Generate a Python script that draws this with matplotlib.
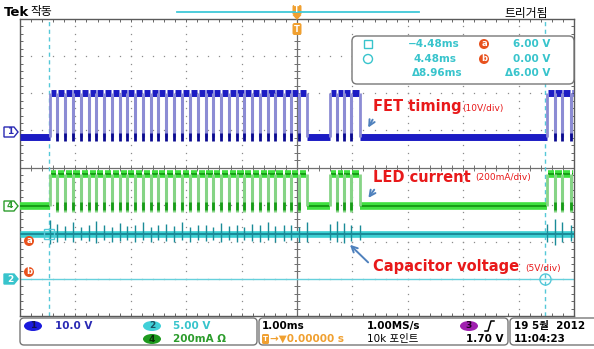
import numpy as np
import matplotlib.pyplot as plt
from matplotlib.patches import FancyBboxPatch, Polygon, Circle, Rectangle, Ellipse

plt.rcParams['font.family'] = ['DejaVu Sans', 'Noto Sans CJK KR']

ch1_scale, ch1_offset = 10.0, 0.82     # V/div, Nulllage in div
ch2_scale, ch2_offset = 5.0, -3.0      # V/div
ch4_scale, ch4_offset = 200.0, -1.04   # mA/div
cursor_t = [-4.48, 4.48]               # ms
cursor_v = [6.00, 0.00]                # V (Kanal 2)

# Pulspakete des FET (ms)
burst_start = [-4.46, 0.60, 4.52]
burst_end = [0.18, 1.14, 5.00]
dips = [-4.33, -4.19, -4.05, -3.90, -3.76, -3.62, -3.48, -3.34, -3.20, -3.06,
        -2.92, -2.78, -2.64, -2.50, -2.36, -2.22, -2.07, -1.93, -1.79, -1.65,
        -1.51, -1.37, -1.23, -1.09, -0.95, -0.81, -0.67, -0.53, -0.39, -0.24,
        -0.10, 0.04,
        0.72, 0.84, 0.98,
        4.65, 4.79, 4.94]

fet_low, fet_high, fet_dip = 0.0, 12.0, 0.0          # V
led_low, led_high, led_dip = 0.0, 175.0, -32.0       # mA
cap_level = 6.0                                      # V
# Spitzen der Kondensatorspannung an den Schaltflanken (V)
cap_spike_hi = [7.9, 7.4, 7.1, 7.6, 7.0, 7.3, 7.8, 7.2, 7.0, 7.5,
                7.1, 7.3, 7.6, 7.0, 7.2, 7.4, 7.1, 7.7, 7.0, 7.3,
                7.2, 7.0, 7.5, 7.1, 7.3, 7.0, 7.4, 7.2, 7.6, 7.1,
                7.3, 7.2, 7.0, 7.6, 7.4, 7.8, 7.5, 7.3, 7.2, 7.4,
                8.1, 7.6, 7.2]
cap_spike_lo = [4.7, 5.0, 5.2, 4.9, 5.3, 5.1, 4.8, 5.2, 5.0, 5.1,
                5.3, 4.9, 5.2, 5.0, 5.3, 5.1, 4.9, 5.2, 5.0, 5.3,
                5.1, 5.2, 4.9, 5.3, 5.0, 5.2, 5.1, 4.9, 5.2, 5.0,
                5.1, 5.3, 5.0, 4.9, 5.2, 5.0, 4.8, 5.1, 5.2, 5.0,
                4.6, 4.9, 5.1]


def to_div(v, scale, offset):
    return np.asarray(v, dtype=float) / scale + offset


fig = plt.figure(figsize=(5.94, 3.49), dpi=100)
fig.patch.set_facecolor('white')

# Graticule (10 x 8 div)
ax = fig.add_axes([20/594, 33/349, 554/594, 297/349])
ax.set_xlim(-5, 5)
ax.set_ylim(-4, 4)
for s in ax.spines.values():
    s.set_color('#5a5a5a')
    s.set_linewidth(1.0)
ax.set_xticks(np.arange(-5, 6, 1))
ax.set_yticks(np.arange(-4, 5, 1))
ax.set_xticks(np.arange(-5, 5.01, 0.2), minor=True)
ax.set_yticks(np.arange(-4, 4.01, 0.2), minor=True)
ax.tick_params(which='both', direction='in', top=True, right=True, length=2.5,
               width=0.7, color='#666666', labelbottom=False, labelleft=False)

fine_x = np.arange(-5, 5.01, 0.2)
fine_y = np.arange(-4, 4.01, 0.2)
for gx in range(-4, 5):
    if gx != 0:
        ax.plot(np.full_like(fine_y, gx), fine_y, ls='none', marker='s', ms=0.9,
                mfc='#8c8c8c', mec='none', zorder=1)
for gy in range(-3, 4):
    if gy != 0:
        ax.plot(fine_x, np.full_like(fine_x, gy), ls='none', marker='s', ms=0.9,
                mfc='#8c8c8c', mec='none', zorder=1)
ax.axhline(0, color='#707070', lw=0.9, zorder=1)
ax.axvline(0, color='#707070', lw=0.9, zorder=1)
ax.plot(fine_x, np.zeros_like(fine_x), ls='none', marker='|', ms=4, mew=0.7,
        color='#707070', zorder=1)
ax.plot(np.zeros_like(fine_y), fine_y, ls='none', marker='_', ms=4, mew=0.7,
        color='#707070', zorder=1)

# Cursor
for t in cursor_t:
    ax.axvline(t, color='#55c8d8', lw=1.0, ls=(0, (3, 2.5)), zorder=2)
ax.axhline(to_div(cursor_v[1], ch2_scale, ch2_offset), color='#66d0dc',
           lw=1.0, zorder=2)
ax.axhline(to_div(cursor_v[0], ch2_scale, ch2_offset), color='#66d0dc',
           lw=1.0, zorder=2)


def pulse_train(low, high, bottom, dark, light, band, core=None, z=3):
    prev = -5.0
    mark = core or '#0a0a90'
    for s, e in zip(burst_start, burst_end):
        ax.hlines(low, prev, s, color=dark, lw=band, zorder=z)
        if core:
            ax.hlines(low, prev, s, color=core, lw=1.4, zorder=z + 0.1)
        ds = [d for d in dips if s < d < e]
        pts = [s] + ds + [e]
        for a, b in zip(pts[:-1], pts[1:]):
            ax.hlines(high, a + 0.015, b - 0.015, color=dark, lw=band, zorder=z)
            if core:
                ax.hlines(high, a + 0.015, b - 0.015, color=core, lw=1.4,
                          zorder=z + 0.1)
        ax.vlines(ds, bottom, high, color=light, lw=2.2, zorder=z + 0.2)
        ax.vlines(ds, low - 0.1, low + 0.12, color=mark, lw=2.0,
                  zorder=z + 0.3)
        edges = [s] + ([e] if e < 5 else [])
        ax.vlines(edges, low, high, color=light, lw=2.0, zorder=z + 0.2)
        prev = e
    if prev < 5:
        ax.hlines(low, prev, 5, color=dark, lw=band, zorder=z)
        if core:
            ax.hlines(low, prev, 5, color=core, lw=1.4, zorder=z + 0.1)


# Kanal 2: Kondensatorspannung
cap_y = to_div(cap_level, ch2_scale, ch2_offset)
ax.hlines(cap_y, -5, 5, color='#3ccfd2', lw=4.8, zorder=3)
ax.hlines(cap_y, -5, 5, color='#1a8b98', lw=1.4, zorder=3.1)
edge_t = sorted(burst_start + dips + [e for e in burst_end if e < 5])
ax.vlines(edge_t, to_div(cap_spike_lo, ch2_scale, ch2_offset),
          to_div(cap_spike_hi, ch2_scale, ch2_offset), color='#1a8b98',
          lw=1.0, zorder=3.2)

# Kanal 4: LED-Strom
pulse_train(to_div(led_low, ch4_scale, ch4_offset),
            to_div(led_high, ch4_scale, ch4_offset),
            to_div(led_dip, ch4_scale, ch4_offset),
            '#3fe03f', '#86d486', 5.5, core='#179c17', z=4)

# Kanal 1: FET-Ansteuerung
pulse_train(to_div(fet_low, ch1_scale, ch1_offset),
            to_div(fet_high, ch1_scale, ch1_offset),
            to_div(fet_dip, ch1_scale, ch1_offset),
            '#1c1cc4', '#8c8cd4', 5.0, z=5)

# Cursor-Symbole
ax.plot(cursor_t[1], to_div(cursor_v[1], ch2_scale, ch2_offset), 'o', ms=8,
        mfc='none', mec='#55c8d8', mew=1.0, zorder=6)
ax.plot(cursor_t[0], to_div(cursor_v[0], ch2_scale, ch2_offset), 's', ms=7,
        mfc='none', mec='#55c8d8', mew=1.0, zorder=6)

# Beschriftungen
red = '#e8191a'
arrow = dict(arrowstyle='->', color='#4f81bd', lw=1.4)
ax.annotate('FET timing', xy=(1.26, 1.01), xytext=(1.37, 1.63), color=red,
            fontsize=10.5, fontweight='bold', va='center', zorder=7,
            arrowprops=dict(arrow, relpos=(0.03, 0.0)))
ax.text(2.98, 1.60, '(10V/div)', color=red, fontsize=6.5, va='center', zorder=7)
ax.annotate('LED current', xy=(1.26, -0.88), xytext=(1.37, -0.26), color=red,
            fontsize=10.5, fontweight='bold', va='center', zorder=7,
            arrowprops=dict(arrow, relpos=(0.05, 0.0)))
ax.text(3.21, -0.28, '(200mA/div)', color=red, fontsize=6.5, va='center', zorder=7)
ax.annotate('Capacitor voltage', xy=(0.92, -2.03), xytext=(1.37, -2.68),
            color=red, fontsize=10.5, fontweight='bold', va='center', zorder=7,
            arrowprops=dict(arrow, relpos=(0.0, 0.5)))
ax.text(4.12, -2.71, '(5V/div)', color=red, fontsize=6.5, va='center', zorder=7)

# Overlay in Pixelkoordinaten fuer Statusleisten und Marker
ov = fig.add_axes([0, 0, 1, 1], zorder=10)
ov.set_xlim(0, 594)
ov.set_ylim(349, 0)
ov.axis('off')

ov.text(4, 12, 'Tek', fontsize=9.5, fontweight='bold', va='center')
ov.text(30, 12, '작동', fontsize=8.5, va='center')
ov.text(504, 13, '트리거됨', fontsize=8.5, va='center')
ov.plot([177, 419], [12, 12], color='#40c8d8', lw=1.3)
orange = '#f0a030'
ov.add_patch(FancyBboxPatch((292.5, 5), 9, 10, boxstyle='round,pad=0,rounding_size=1.5',
                            fc=orange, ec='none'))
ov.add_patch(Polygon([(292.5, 15), (301.5, 15), (297, 20)], fc=orange, ec='none'))
ov.text(297, 10, 'T', color='white', fontsize=5.5, fontweight='bold',
        ha='center', va='center')
ov.add_patch(FancyBboxPatch((292.5, 23), 9, 12, boxstyle='round,pad=0,rounding_size=2',
                            fc=orange, ec='none'))
ov.text(297, 29, 'T', color='white', fontsize=6, fontweight='bold',
        ha='center', va='center')


def ch_marker(y, label, color, filled):
    ov.add_patch(Polygon([(4, y - 5), (14, y - 5), (18, y), (14, y + 5), (4, y + 5)],
                         fc=color if filled else 'white', ec=color, lw=1.0))
    ov.text(10, y, label, color='white' if filled else color, fontsize=6.5,
            fontweight='bold', ha='center', va='center')


ch_marker(132, '1', '#2a2ab4', False)
ch_marker(206, '4', '#2c9c2c', False)
ch_marker(279, '2', '#38c4cc', True)

for y, lab in [(241, 'a'), (272, 'b')]:
    ov.add_patch(Circle((29, y), 5, fc='#e8521e', ec='none'))
    ov.text(29, y - 0.5, lab, color='white', fontsize=6, fontweight='bold',
            ha='center', va='center')

# Cursor-Anzeige
cyan = '#38c4cc'
ov.add_patch(FancyBboxPatch((352, 36), 222, 48, boxstyle='round,pad=0,rounding_size=5',
                            fc='white', ec='#777777', lw=1.0))
ov.add_patch(Rectangle((364, 40), 8, 8, fc='none', ec=cyan, lw=1.0))
ov.add_patch(Circle((368, 59), 4.5, fc='none', ec=cyan, lw=1.0))
ov.text(460, 44, '\u22124.48ms', color=cyan, fontsize=7.5, fontweight='bold',
        ha='right', va='center')
ov.text(457, 59, '4.48ms', color=cyan, fontsize=7.5, fontweight='bold',
        ha='right', va='center')
ov.text(463, 73, '\u03948.96ms', color=cyan, fontsize=7.5, fontweight='bold',
        ha='right', va='center')
for y, lab in [(44, 'a'), (59, 'b')]:
    ov.add_patch(Circle((484, y), 5, fc='#e8521e', ec='none'))
    ov.text(484, y - 0.5, lab, color='white', fontsize=6, fontweight='bold',
            ha='center', va='center')
ov.text(550, 44, '6.00 V', color=cyan, fontsize=7.5, fontweight='bold',
        ha='right', va='center')
ov.text(550, 59, '0.00 V', color=cyan, fontsize=7.5, fontweight='bold',
        ha='right', va='center')
ov.text(550, 73, '\u03946.00 V', color=cyan, fontsize=7.5, fontweight='bold',
        ha='right', va='center')

# Statusleiste unten
for x0, x1 in [(20, 257), (259, 508), (510, 600)]:
    ov.add_patch(FancyBboxPatch((x0, 318), x1 - x0, 27,
                                boxstyle='round,pad=0,rounding_size=4',
                                fc='white', ec='#777777', lw=1.0))


def ch_badge(x, y, label, color, tcolor):
    ov.add_patch(Ellipse((x, y), 18, 10, fc=color, ec='none'))
    ov.text(x, y, label, color=tcolor, fontsize=6.5, fontweight='bold',
            ha='center', va='center')


ch_badge(33, 326, '1', '#1a1adc', '#101050')
ov.text(55, 326, '10.0 V', color='#2a2ab4', fontsize=7.5, fontweight='bold', va='center')
ch_badge(152, 326, '2', '#40d0d8', '#1a5060')
ov.text(173, 326, '5.00 V', color=cyan, fontsize=7.5, fontweight='bold', va='center')
ch_badge(152, 339, '4', '#1e9a1e', '#0a300a')
ov.text(173, 339, '200mA \u03a9', color='#2c9c2c', fontsize=7.5, fontweight='bold',
        va='center')

ov.text(262, 326, '1.00ms', fontsize=7.5, fontweight='bold', va='center')
ov.add_patch(FancyBboxPatch((262, 334), 7, 10, boxstyle='round,pad=0,rounding_size=1.5',
                            fc=orange, ec='none'))
ov.text(265.5, 339, 'T', color='white', fontsize=5, fontweight='bold',
        ha='center', va='center')
ov.text(270, 339, '\u2192\u25bc0.00000 s', color=orange, fontsize=7.5,
        fontweight='bold', va='center')
ov.text(367, 326, '1.00MS/s', fontsize=7.5, fontweight='bold', va='center')
ov.text(367, 339, '10k 포인트', fontsize=7.5, va='center')
ch_badge(469, 326, '3', '#a020b0', '#200020')
ov.plot([485, 488, 491, 494], [331, 331, 321, 321], color='black', lw=1.1)
ov.text(503, 339, '1.70 V', fontsize=7.5, fontweight='bold', ha='right', va='center')

ov.text(514, 326, '19 5월  2012', fontsize=7.5, fontweight='bold', va='center')
ov.text(514, 339, '11:04:23', fontsize=7.5, fontweight='bold', va='center')

plt.savefig('out.png', dpi=100)
